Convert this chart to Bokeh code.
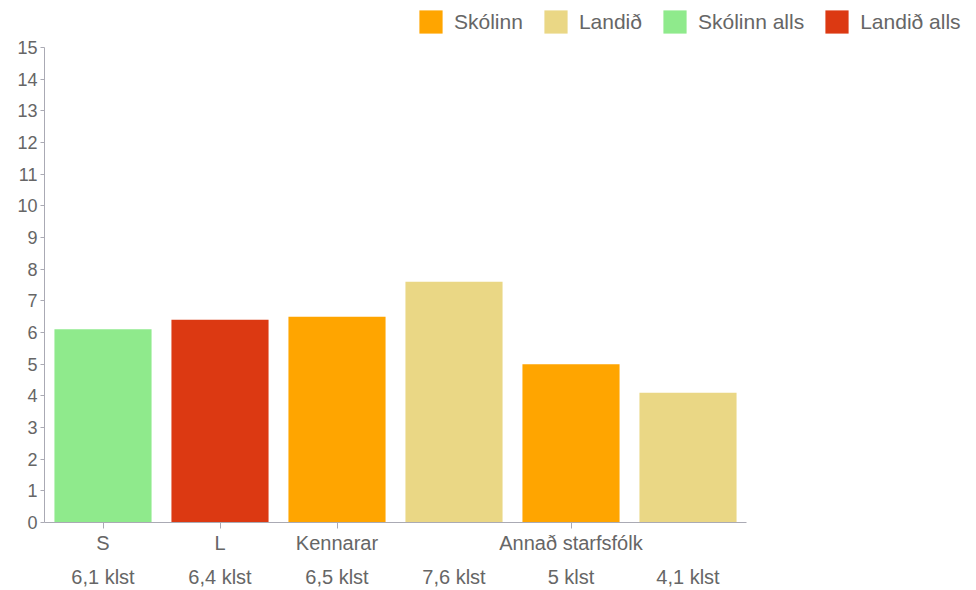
from bokeh.plotting import figure
from bokeh.models import FixedTicker, LinearAxis, Legend, LegendItem, Range1d
from bokeh.embed import file_html
from bokeh.resources import INLINE

# ---- data ----
group_labels = ["S", "L", "Kennarar", "Annað starfsfólk"]
skolinn_alls = [6.1]
landid_alls = [6.4]
skolinn = [6.5, 5.0]
landid = [7.6, 4.1]
y_ticks = list(range(0, 16))
y_max = 15
n_slots = 6

# bar slot positions (one slot per bar)
pos_s_alls = [0.5]
pos_l_alls = [1.5]
pos_skolinn = [2.5, 4.5]
pos_landid = [3.5, 5.5]
group_tick_pos = [0.5, 1.5, 2.5, 4.5]

def fmt(v):
    s = ("%g" % v).replace(".", ",")
    return s + " klst"

FONT = "Liberation Sans"
TXT = "#666666"
AX = "#aaaab4"

# layout geometry (pixels)
W_PX, H_PX = 976, 590
LEFT, BOTTOM = 44, 67
PLOT_W, PLOT_H = 702, 476          # visible axis extents
FRAME_W = W_PX - LEFT
FRAME_H = H_PX - BOTTOM

p = figure(width=W_PX, height=H_PX, output_backend="svg", toolbar_location=None,
           x_range=Range1d(0, n_slots * FRAME_W / PLOT_W),
           y_range=Range1d(0, y_max * FRAME_H / PLOT_H),
           min_border_left=LEFT, min_border_right=0, min_border_top=0,
           min_border_bottom=BOTTOM)
p.outline_line_color = None
p.xgrid.visible = False
p.ygrid.visible = False
p.background_fill_color = "white"

W = 0.83
r_so = p.vbar(x=pos_skolinn, top=skolinn, width=W, color="#ffa500", line_color=None)
r_la = p.vbar(x=pos_landid, top=landid, width=W, color="#ead785", line_color=None)
r_sa = p.vbar(x=pos_s_alls, top=skolinn_alls, width=W, color="#8fea8c", line_color=None)
r_ll = p.vbar(x=pos_l_alls, top=landid_alls, width=W, color="#dc3912", line_color=None)

# y axis
ya = p.yaxis[0]
ya.bounds = (0, y_max)
ya.ticker = FixedTicker(ticks=y_ticks)
ya.minor_tick_line_color = None
ya.major_tick_out = 4
ya.major_tick_in = 0
ya.major_label_standoff = 3
ya.axis_line_color = AX
ya.major_tick_line_color = AX
ya.major_label_text_font = FONT
ya.major_label_text_font_size = "18px"
ya.major_label_text_color = TXT

# x axis: group labels
xa = p.xaxis[0]
xa.bounds = (0, n_slots)
xa.ticker = FixedTicker(ticks=group_tick_pos)
xa.major_label_overrides = {t: l for t, l in zip(group_tick_pos, group_labels)}
xa.minor_tick_line_color = None
xa.major_tick_out = 6
xa.major_tick_in = 0
xa.major_label_standoff = 3
xa.axis_line_color = AX
xa.major_tick_line_color = AX
xa.major_label_text_font = FONT
xa.major_label_text_font_size = "20px"
xa.major_label_text_color = TXT

# second x axis: value labels
all_pos = pos_s_alls + pos_l_alls + [pos_skolinn[0], pos_landid[0], pos_skolinn[1], pos_landid[1]]
all_val = skolinn_alls + landid_alls + [skolinn[0], landid[0], skolinn[1], landid[1]]
xa2 = LinearAxis(ticker=FixedTicker(ticks=all_pos),
                 major_label_overrides={t: fmt(v) for t, v in zip(all_pos, all_val)})
xa2.axis_line_color = None
xa2.major_tick_line_color = None
xa2.minor_tick_line_color = None
xa2.major_label_standoff = 3
xa2.major_label_text_font = FONT
xa2.major_label_text_font_size = "20px"
xa2.major_label_text_color = TXT
p.add_layout(xa2, "below")

legend = Legend(items=[
    LegendItem(label="Skólinn", renderers=[r_so]),
    LegendItem(label="Landið", renderers=[r_la]),
    LegendItem(label="Skólinn alls", renderers=[r_sa]),
    LegendItem(label="Landið alls", renderers=[r_ll]),
], orientation="horizontal", location=(372, 486))
legend.glyph_width = 29
legend.glyph_height = 29
legend.label_height = 29
legend.label_standoff = 9
legend.spacing = 18
legend.padding = 0
legend.margin = 0
legend.border_line_color = None
legend.background_fill_alpha = 0
legend.label_text_font = FONT
legend.label_text_font_size = "21px"
legend.label_text_color = TXT
p.add_layout(legend, "center")

open("out.html", "w").write(file_html(p, INLINE))
